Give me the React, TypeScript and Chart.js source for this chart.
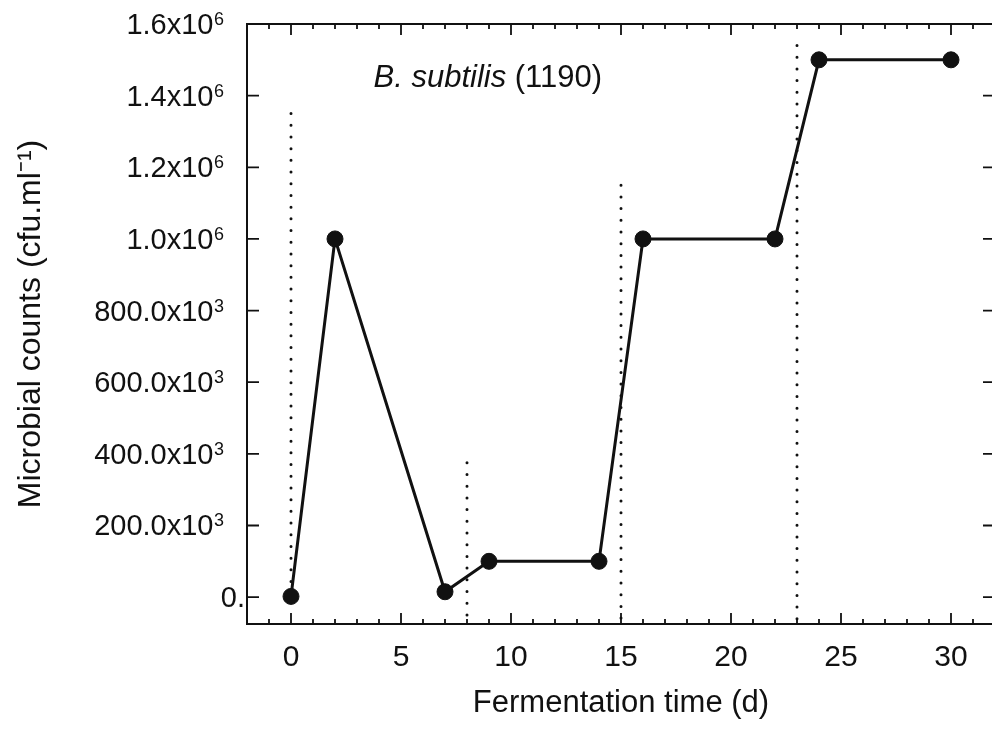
import { useEffect, useRef } from 'react';
import { Chart, registerables } from 'chart.js';

Chart.register(...registerables);

// Microbial counts of B. subtilis (1190) over the fermentation
const DAYS = [0, 2, 7, 9, 14, 16, 22, 24, 30];
const COUNTS = [2000, 1000000, 15000, 100000, 100000, 1000000, 1000000, 1500000, 1500000];

// Axis ticks
const X_TICKS = [0, 5, 10, 15, 20, 25, 30];
const Y_TICK_VALUES = [0, 200000, 400000, 600000, 800000, 1000000, 1200000, 1400000, 1600000];
const Y_TICK_MANTISSAS = ['0.', '200.0x10', '400.0x10', '600.0x10', '800.0x10', '1.0x10', '1.2x10', '1.4x10', '1.6x10'];
const Y_TICK_EXPONENTS = ['', '3', '3', '3', '3', '6', '6', '6', '6'];

// Dotted markers separating the fermentation phases
const PHASE_DAYS = [0, 8, 15, 23];
const PHASE_TOPS = [1350000, 375000, 1150000, 1540000];
const PHASE_BOTTOMS = [0, -75000, -75000, -75000];

const X_MIN = -2;
const X_MAX = 32;
const Y_MIN = -75000;
const Y_MAX = 1600000;

const INK = '#111';
const FONT = '"Liberation Sans", Arial, Helvetica, sans-serif';

const framePlugin = {
  id: 'frameAndPhases',
  beforeDatasetsDraw(chart: any) {
    const { ctx, chartArea: a, scales } = chart;
    const x = scales.x;
    const y = scales.y;
    ctx.save();

    // phase separators
    ctx.strokeStyle = INK;
    ctx.lineWidth = 3;
    ctx.lineCap = 'round';
    ctx.setLineDash([0, 11.7]);
    PHASE_DAYS.forEach((d, i) => {
      const px = x.getPixelForValue(d);
      ctx.beginPath();
      ctx.moveTo(px, y.getPixelForValue(PHASE_TOPS[i]));
      ctx.lineTo(px, y.getPixelForValue(PHASE_BOTTOMS[i]));
      ctx.stroke();
    });
    ctx.setLineDash([]);
    ctx.lineCap = 'butt';

    // box frame
    ctx.lineWidth = 2;
    ctx.strokeRect(a.left, a.top, a.right - a.left, a.bottom - a.top);

    // inward ticks on the horizontal edges
    ctx.lineWidth = 1.8;
    ctx.beginPath();
    for (let d = Math.ceil(X_MIN + 1); d < X_MAX; d++) {
      const px = x.getPixelForValue(d);
      const len = d % 5 === 0 ? 11 : 5;
      ctx.moveTo(px, a.bottom);
      ctx.lineTo(px, a.bottom - len);
      ctx.moveTo(px, a.top);
      ctx.lineTo(px, a.top + len);
    }
    // inward ticks on the vertical edges
    Y_TICK_VALUES.forEach((v) => {
      const py = y.getPixelForValue(v);
      ctx.moveTo(a.left, py);
      ctx.lineTo(a.left + 12, py);
      ctx.moveTo(a.right, py);
      ctx.lineTo(a.right - 12, py);
    });
    ctx.stroke();
    ctx.restore();
  },
  afterDraw(chart: any) {
    const { ctx, chartArea: a, scales } = chart;
    const x = scales.x;
    const y = scales.y;
    ctx.save();
    ctx.fillStyle = INK;

    // y tick labels with raised exponents
    ctx.textBaseline = 'alphabetic';
    Y_TICK_VALUES.forEach((v, i) => {
      const py = y.getPixelForValue(v);
      const base = py + 10;
      const exp = Y_TICK_EXPONENTS[i];
      let right = exp ? a.left - 23 : a.left - 2;
      ctx.textAlign = 'right';
      if (exp) {
        ctx.font = `18px ${FONT}`;
        ctx.fillText(exp, right, base - 9);
        right -= ctx.measureText(exp).width + 0.5;
      }
      ctx.font = `29px ${FONT}`;
      ctx.fillText(Y_TICK_MANTISSAS[i], right, base);
    });

    // strain label
    const lx = x.getPixelForValue(3.75);
    const ly = y.getPixelForValue(1425000);
    ctx.textAlign = 'left';
    ctx.font = `italic 31px ${FONT}`;
    ctx.fillText('B. subtilis', lx, ly);
    const w = ctx.measureText('B. subtilis').width;
    ctx.font = `31px ${FONT}`;
    ctx.fillText(' (1190)', lx + w, ly);
    ctx.restore();
  },
};

export default function App() {
  const canvasRef = useRef<HTMLCanvasElement | null>(null);

  useEffect(() => {
    document.body.style.margin = '0';
    document.body.style.overflow = 'hidden';
    const canvas = canvasRef.current;
    if (!canvas) return;

    const chart = new Chart(canvas, {
      type: 'line',
      data: {
        datasets: [
          {
            data: DAYS.map((d, i) => ({ x: d, y: COUNTS[i] })),
            borderColor: INK,
            borderWidth: 3,
            backgroundColor: INK,
            pointBackgroundColor: INK,
            pointBorderColor: INK,
            pointBorderWidth: 1,
            pointRadius: 8,
            tension: 0,
            fill: false,
          },
        ],
      },
      options: {
        responsive: false,
        animation: false,
        events: [],
        layout: { autoPadding: false, padding: { top: 24, right: 0, bottom: 0, left: 0 } },
        plugins: {
          legend: { display: false },
          tooltip: { enabled: false },
        },
        scales: {
          x: {
            type: 'linear',
            min: X_MIN,
            max: X_MAX,
            afterBuildTicks: (scale: any) => {
              scale.ticks = X_TICKS.map((v) => ({ value: v }));
            },
            afterFit: (scale: any) => {
              scale.height = 111;
              scale.paddingLeft = 0;
              scale.paddingRight = 0;
            },
            grid: { display: false, drawTicks: false },
            border: { display: false },
            ticks: {
              color: INK,
              padding: 16,
              maxRotation: 0,
              autoSkip: false,
              font: { family: FONT, size: 30 },
              callback: (v: any) => String(v),
            },
            title: {
              display: true,
              text: 'Fermentation time (d)',
              color: INK,
              font: { family: FONT, size: 31 },
              padding: { top: 0, bottom: 13 },
            },
          },
          y: {
            type: 'linear',
            min: Y_MIN,
            max: Y_MAX,
            afterBuildTicks: (scale: any) => {
              scale.ticks = Y_TICK_VALUES.map((v) => ({ value: v }));
            },
            afterFit: (scale: any) => {
              scale.width = 247;
              scale.paddingTop = 0;
              scale.paddingBottom = 0;
            },
            grid: { display: false, drawTicks: false },
            border: { display: false },
            ticks: { display: false },
            title: {
              display: true,
              text: 'Microbial counts (cfu.ml\u207B\u00B9)',
              color: INK,
              font: { family: FONT, size: 32 },
              padding: { top: 12, bottom: 0 },
            },
          },
        },
      },
      plugins: [framePlugin],
    });

    return () => chart.destroy();
  }, []);

  // the plot box runs slightly past the right edge of the page
  return (
    <div style={{ width: 992, height: 735, overflow: 'hidden', background: '#fff' }}>
      <canvas ref={canvasRef} width={995} height={735} style={{ display: 'block' }} />
    </div>
  );
}
